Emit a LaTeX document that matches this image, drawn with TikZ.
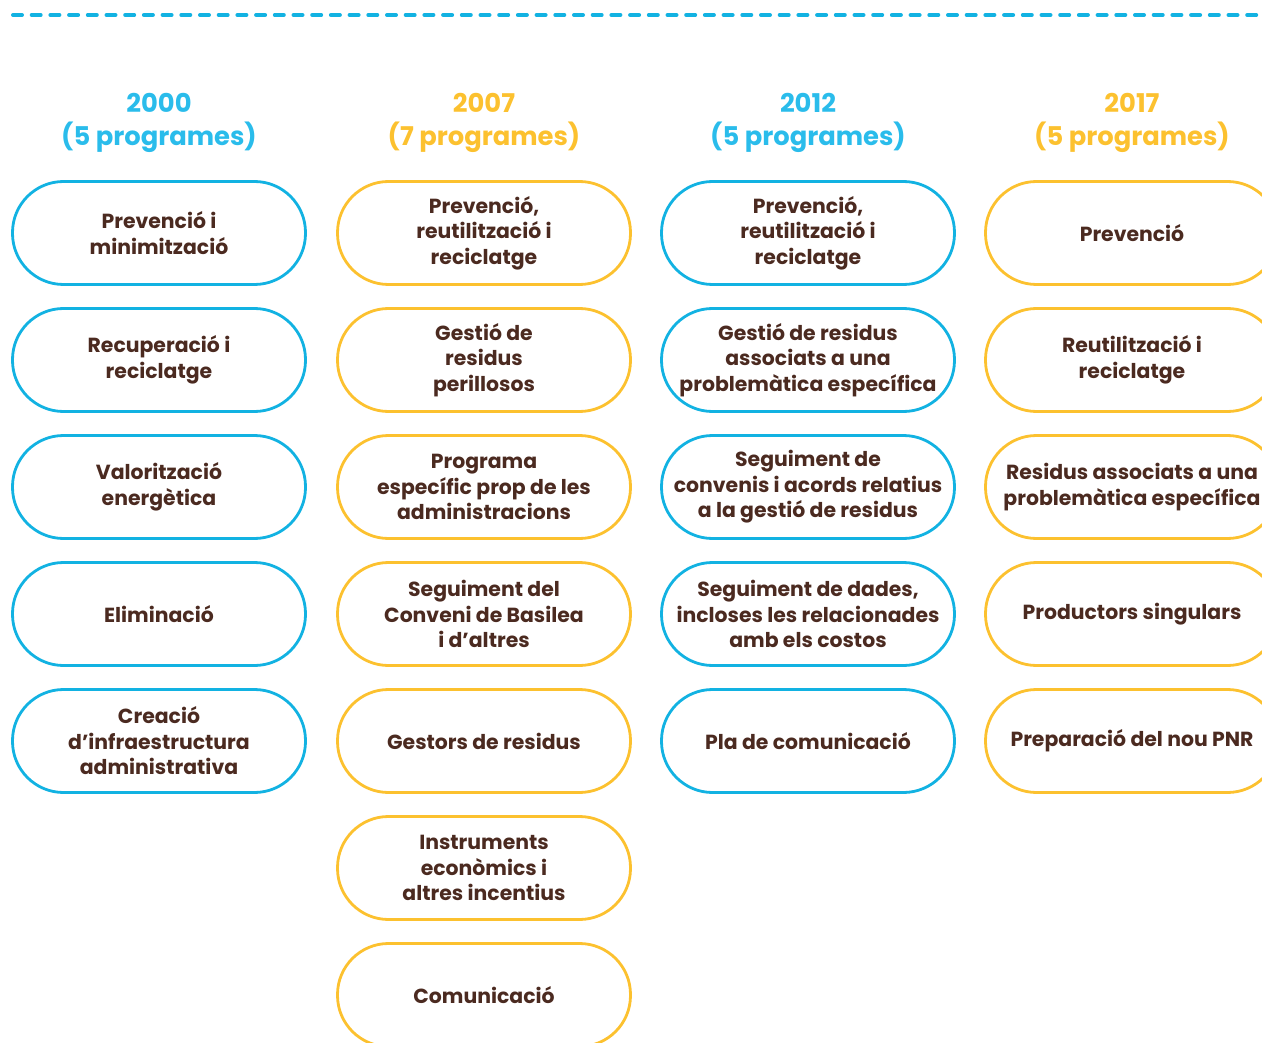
\documentclass[tikz,border=0pt]{standalone}
\usepackage{fontspec}
\setmainfont{Poppins}
\definecolor{progblue}{HTML}{12B2E2}
\definecolor{headblue}{HTML}{2ABCEB}
\definecolor{progyellow}{HTML}{FCC12F}
\definecolor{progbrown}{HTML}{4B2A20}
\tikzset{
  progbox/.style={draw=#1, line width=2.8pt, rounded corners=51pt,
    minimum width=293pt, minimum height=103pt, inner sep=0pt,
    align=center, text=progbrown, font=\fontsize{20.4}{25.5}\selectfont\bfseries},
  yearlabel/.style={text=#1, align=center, font=\fontsize{25.8}{33}\selectfont\bfseries}
}

\begin{document}
\begin{tikzpicture}[x=1pt,y=-1pt]
      \useasboundingbox (0,0) rectangle (1262,1043);
      \clip (0,0) rectangle (1262,1043);

      %TOP LINE
      \draw[progblue, line width=4pt, line cap=round, dash pattern=on 9pt off 9.7pt] (13,15) -- (1270,15);

      %HEADERS
      \node[yearlabel=headblue] (h2000) at (159,123) {2000\\(5 programes)};
      \node[yearlabel=progyellow] (h2007) at (484,123) {2007\\(7 programes)};
      \node[yearlabel=headblue] (h2012) at (808,123) {2012\\(5 programes)};
      \node[yearlabel=progyellow] (h2017) at (1132,123) {2017\\(5 programes)};

      %2000
      \node[progbox=progblue] (a1) at (159,233) {Prevenció i\\minimització};
      \node[progbox=progblue] (a2) at (159,360) {Recuperació i\\reciclatge};
      \node[progbox=progblue] (a3) at (159,487) {Valorització\\energètica};
      \node[progbox=progblue] (a4) at (159,614) {Eliminació};
      \node[progbox=progblue] (a5) at (159,741) {Creació\\d’infraestructura\\administrativa};

      %2007
      \node[progbox=progyellow] (b1) at (484,233) {Prevenció,\\reutilització i\\reciclatge};
      \node[progbox=progyellow] (b2) at (484,360) {Gestió de\\residus\\perillosos};
      \node[progbox=progyellow] (b3) at (484,487) {Programa\\específic prop de les\\administracions};
      \node[progbox=progyellow] (b4) at (484,614) {Seguiment del\\Conveni de Basilea\\i d’altres};
      \node[progbox=progyellow] (b5) at (484,741) {Gestors de residus};
      \node[progbox=progyellow] (b6) at (484,868) {Instruments\\econòmics i\\altres incentius};
      \node[progbox=progyellow] (b7) at (484,995) {Comunicació};

      %2012
      \node[progbox=progblue] (c1) at (808,233) {Prevenció,\\reutilització i\\reciclatge};
      \node[progbox=progblue] (c2) at (808,360) {Gestió de residus\\associats a una\\problemàtica específica};
      \node[progbox=progblue] (c3) at (808,487) {Seguiment de\\convenis i acords relatius\\a la gestió de residus};
      \node[progbox=progblue] (c4) at (808,614) {Seguiment de dades,\\incloses les relacionades\\amb els costos};
      \node[progbox=progblue] (c5) at (808,741) {Pla de comunicació};

      %2017
      \node[progbox=progyellow] (d1) at (1132,233) {Prevenció};
      \node[progbox=progyellow] (d2) at (1132,360) {Reutilització i\\reciclatge};
      \node[progbox=progyellow] (d3) at (1132,487) {Residus associats a una\\problemàtica específica};
      \node[progbox=progyellow] (d4) at (1132,614) {Productors singulars};
      \node[progbox=progyellow] (d5) at (1132,741) {Preparació del nou PNR};
\end{tikzpicture}
\end{document}
